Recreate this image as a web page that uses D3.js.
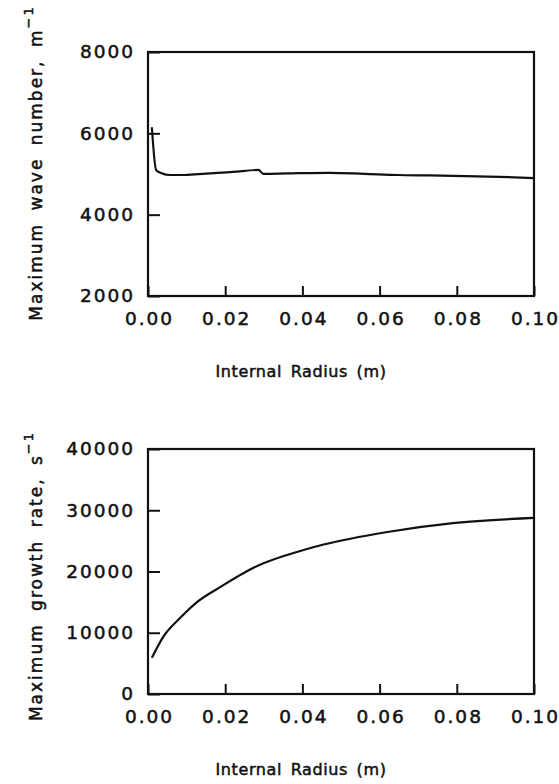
<!DOCTYPE html>
<html>
<head>
<meta charset="utf-8">
<script src="https://cdn.jsdelivr.net/npm/d3@7"></script>
<style>
  body { margin: 0; background: #fff; }
  text { font-family: "DejaVu Sans", sans-serif; fill: #111; stroke: #111; stroke-width: 0.5px; }
  .tick text { font-size: 18.5px; letter-spacing: 2px; }
  .domain { display: none; }
  .tick line { stroke: #111; stroke-width: 2; }
  .frame { fill: none; stroke: #111; stroke-width: 2.2; }
  .line { fill: none; stroke: #111; stroke-width: 2.2; stroke-linejoin: round; }
</style>
</head>
<body>
<script>
var WIDTH = 559;
var HEIGHT = 784;

// radius values shared by both panels (m)
var xTicks = [0, 0.02, 0.04, 0.06, 0.08, 0.10];

// top panel: maximum wave number (m^-1)
var waveRadius = [0.001, 0.0021, 0.0035, 0.0057, 0.0096, 0.015, 0.022, 0.0286, 0.0299, 0.036, 0.047, 0.056, 0.0647, 0.073, 0.082, 0.091, 0.1];
var waveNumber = [6150, 5100, 5020, 4975, 4975, 5010, 5050, 5100, 5005, 5015, 5030, 5005, 4975, 4965, 4950, 4930, 4900];
var waveTicks = [2000, 4000, 6000, 8000];

// bottom panel: maximum growth rate (s^-1)
var growthRadius = [0.001, 0.0039, 0.0083, 0.0127, 0.0187, 0.0283, 0.0403, 0.0455, 0.062, 0.079, 0.1];
var growthRate = [5900, 9300, 12400, 15000, 17450, 20900, 23500, 24400, 26450, 27900, 28750];
var growthTicks = [0, 10000, 20000, 30000, 40000];

var LEFT = 148, RIGHT = 534;

var translate = function (x, y) {
  return "translate(" + x + "," + y + ")";
};

var svg = d3.select('body').append('svg')
  .attr('width', WIDTH)
  .attr('height', HEIGHT);

var drawPanel = function (opts) {
  var xScale = d3.scaleLinear().domain([0, 0.1]).range([LEFT, RIGHT]);
  var yScale = d3.scaleLinear().domain(opts.yDomain).range([opts.bottom, opts.top]);

  var g = svg.append('g');

  // frame
  g.append('rect')
    .attr('class', 'frame')
    .attr('x', LEFT).attr('y', opts.top)
    .attr('width', RIGHT - LEFT).attr('height', opts.bottom - opts.top);

  var xAxis = d3.axisBottom(xScale)
    .tickValues(xTicks)
    .tickSize(-10)
    .tickPadding(16)
    .tickFormat(d3.format('.2f'));

  var yAxis = d3.axisLeft(yScale)
    .tickValues(opts.yTicks)
    .tickSize(-12)
    .tickPadding(13)
    .tickFormat(d3.format('d'));

  g.append('g').attr('transform', translate(0, opts.bottom)).call(xAxis)
    .selectAll('text').attr('dx', '1px');
  g.append('g').attr('transform', translate(LEFT, 0)).call(yAxis);

  var line = d3.line()
    .curve(d3.curveMonotoneX)
    .x(function (d, i) { return xScale(opts.xs[i]); })
    .y(function (d) { return yScale(d); });

  g.append('path')
    .attr('class', 'line')
    .attr('d', line(opts.ys));

  // x label
  g.append('text')
    .attr('x', 301).attr('y', opts.bottom + 81)
    .attr('text-anchor', 'middle')
    .style('font-size', '16px')
    .style('letter-spacing', '0.6px')
    .style('word-spacing', '3px')
    .text('Internal Radius (m)');

  // y label
  var yl = g.append('text')
    .attr('transform', translate(42, opts.labelY) + ' rotate(-90)')
    .attr('text-anchor', 'middle')
    .style('font-size', '17px')
    .style('letter-spacing', '2px')
    .style('word-spacing', '5px');
  yl.append('tspan').text(opts.yLabel);
  yl.append('tspan')
    .attr('dy', '-9')
    .style('font-size', '13px')
    .text('\u22121');
};

drawPanel({
  top: 52, bottom: 296,
  yDomain: [2000, 8000], yTicks: waveTicks,
  xs: waveRadius, ys: waveNumber,
  yLabel: 'Maximum wave number, m',
  labelY: 163
});

drawPanel({
  top: 449, bottom: 694,
  yDomain: [0, 40000], yTicks: growthTicks,
  xs: growthRadius, ys: growthRate,
  yLabel: 'Maximum growth rate, s',
  labelY: 576
});
</script>
</body>
</html>
